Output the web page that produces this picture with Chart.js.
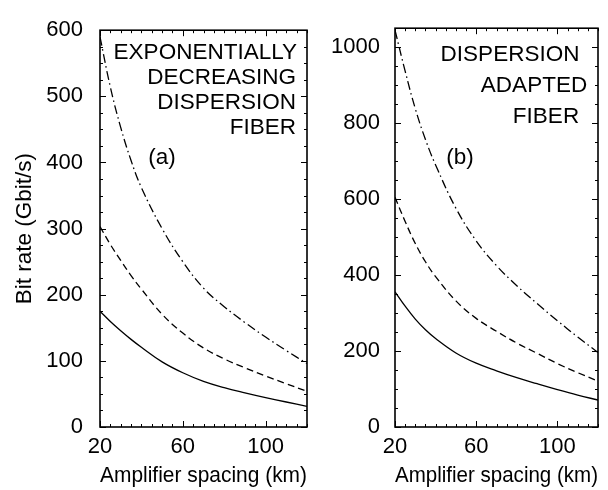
<!DOCTYPE html>
<html>
<head>
<meta charset="utf-8">
<script src="https://cdn.jsdelivr.net/npm/chart.js@4.4.1/dist/chart.umd.min.js"></script>
<style>
  html, body { margin: 0; padding: 0; background: #fff; }
  #wrap { position: relative; width: 608px; height: 490px; overflow: hidden; background: #fff; }
  canvas { position: absolute; top: 0; }
</style>
</head>
<body>
<div id="wrap">
  <canvas id="cA" width="330" height="490" style="left:0px"></canvas>
  <canvas id="cB" width="308" height="490" style="left:300px"></canvas>
</div>
<script>
// ---- data ----
const xKm = [20, 25, 30, 35, 40, 50, 60, 70, 80, 90, 100, 110, 120];

// panel (a): exponentially decreasing dispersion fiber
const aSolid   = [175, 159.5, 145.5, 132.5, 120.5, 98.5, 82, 69, 59.5, 51.7, 44.5, 37.8, 31.2];
const aDashed  = [303, 276, 252, 229, 208.5, 170.5, 142, 119.5, 103, 89.5, 77, 65.4, 54];
const aDashDot = [590, 514, 453, 403, 362, 300, 250, 210, 182, 158, 136, 115.5, 96];

// panel (b): dispersion adapted fiber
const bSolid   = [356, 318, 284, 256, 233, 195, 168, 148, 130, 114, 98.5, 84, 71];
const bDashed  = [605, 541, 483, 435, 396, 332, 286, 252, 221, 194, 167, 143, 121];
const bDashDot = [1045, 937, 838, 757, 690, 576, 490, 425, 372, 325, 280, 237, 196];

// tick labels
const xTicks  = [20, 60, 100];
const yTicksA = [0, 100, 200, 300, 400, 500, 600];
const yTicksB = [0, 200, 400, 600, 800, 1000];

const FONT = '"Liberation Sans", Arial, Helvetica, sans-serif';

function pts(ys) { return xKm.map((x, i) => ({ x: x, y: ys[i] })); }

function series(solid, dashed, dashdot) {
  const base = { borderColor: '#000', borderWidth: 1.3, pointRadius: 0, fill: false, tension: 0.4 };
  return [
    Object.assign({}, base, { label: 'solid', data: pts(solid), borderDash: [] }),
    Object.assign({}, base, { label: 'dashed', data: pts(dashed), borderDash: [7, 4] }),
    Object.assign({}, base, { label: 'dashdot', data: pts(dashdot), borderDash: [9, 3.5, 1.5, 3.5] })
  ];
}

// frame + inward ticks on all four sides + annotation text
const frameTicks = {
  id: 'frameTicks',
  afterDatasetsDraw(chart, args, o) {
    const { ctx, chartArea: a, scales: { x, y } } = chart;
    ctx.save();
    ctx.strokeStyle = '#000';
    ctx.lineWidth = 1;
    const seg = (x1, y1, x2, y2) => { ctx.beginPath(); ctx.moveTo(x1, y1); ctx.lineTo(x2, y2); ctx.stroke(); };
    for (let v = x.min; v <= x.max + 1e-9; v += o.xMinor) {
      const px = Math.round(x.getPixelForValue(v)) + 0.5;
      const major = Math.abs((v - x.min) % o.xMajor) < 1e-6;
      const len = major ? 6 : 3;
      seg(px, a.bottom, px, a.bottom - len);
      seg(px, a.top, px, a.top + len);
    }
    for (let v = 0; v <= y.max + 1e-9; v += o.yMinor) {
      const py = Math.round(y.getPixelForValue(v)) + 0.5;
      const major = Math.abs(v % o.yMajor) < 1e-6;
      const len = major ? 6 : 3;
      seg(a.left, py, a.left + len, py);
      seg(a.right, py, a.right - len, py);
    }
    ctx.lineWidth = 1.6;
    ctx.strokeRect(a.left, a.top, a.right - a.left, a.bottom - a.top);
    ctx.fillStyle = '#000';
    ctx.textBaseline = 'middle';
    (o.texts || []).forEach(t => {
      ctx.font = t.size + 'px ' + FONT;
      ctx.textAlign = t.align;
      ctx.fillText(t.text, t.x, t.y);
    });
    ctx.restore();
  }
};

function makeChart(id, datasets, yMax, yTicks, yWidth, yPad, padRight, showYTitle, annot, minorY, majorY) {
  return new Chart(document.getElementById(id), {
    type: 'line',
    data: { datasets: datasets },
    plugins: [frameTicks],
    options: {
      responsive: false,
      devicePixelRatio: 1,
      animation: false,
      events: [],
      layout: { padding: { left: 0, right: padRight, top: 19, bottom: 0 } },
      plugins: {
        legend: { display: false },
        tooltip: { enabled: false },
        frameTicks: { xMinor: 5, xMajor: 40, yMinor: minorY, yMajor: majorY, texts: annot }
      },
      scales: {
        x: {
          type: 'linear', min: 20, max: 120,
          afterBuildTicks: s => { s.ticks = xTicks.map(v => ({ value: v })); },
          afterFit: s => { s.height = 63; },
          grid: { display: false, drawTicks: false },
          border: { display: false },
          ticks: { color: '#000', padding: 7, maxRotation: 0, callback: v => String(v),
                   font: { family: FONT, size: 22 } },
          title: { display: true, text: 'Amplifier spacing (km)', color: '#000',
                   padding: { top: 0, bottom: 1 }, font: { family: FONT, size: 22.5 } }
        },
        y: {
          type: 'linear', min: 0, max: yMax,
          afterBuildTicks: s => { s.ticks = yTicks.map(v => ({ value: v })); },
          afterFit: s => { s.width = yWidth; },
          grid: { display: false, drawTicks: false },
          border: { display: false },
          ticks: { color: '#000', padding: yPad, callback: v => String(v),
                   font: { family: FONT, size: 22 } },
          title: { display: showYTitle, text: 'Bit rate (Gbit/s)', color: '#000',
                   padding: { top: 11, bottom: 0 }, font: { family: FONT, size: 22.5 } }
        }
      }
    }
  });
}

const annotA = [
  { text: 'EXPONENTIALLY', x: 297, y: 53, align: 'right', size: 22.5 },
  { text: 'DECREASING', x: 296, y: 78, align: 'right', size: 22.5 },
  { text: 'DISPERSION', x: 296, y: 103, align: 'right', size: 22.5 },
  { text: 'FIBER', x: 296, y: 128, align: 'right', size: 22.5 },
  { text: '(a)', x: 162, y: 158, align: 'center', size: 22.5 }
];
const annotB = [
  { text: 'DISPERSION', x: 210, y: 55, align: 'center', size: 22.5 },
  { text: 'ADAPTED', x: 234, y: 86, align: 'center', size: 22.5 },
  { text: 'FIBER', x: 246, y: 117, align: 'center', size: 22.5 },
  { text: '(b)', x: 160, y: 158, align: 'center', size: 22.5 }
];

makeChart('cA', series(aSolid, aDashed, aDashDot), 600, yTicksA, 100, 17, 23, true, annotA, 25, 100);
makeChart('cB', series(bSolid, bDashed, bDashDot), 1050, yTicksB, 95, 15, 10, false, annotB, 50, 200);
</script>
</body>
</html>
